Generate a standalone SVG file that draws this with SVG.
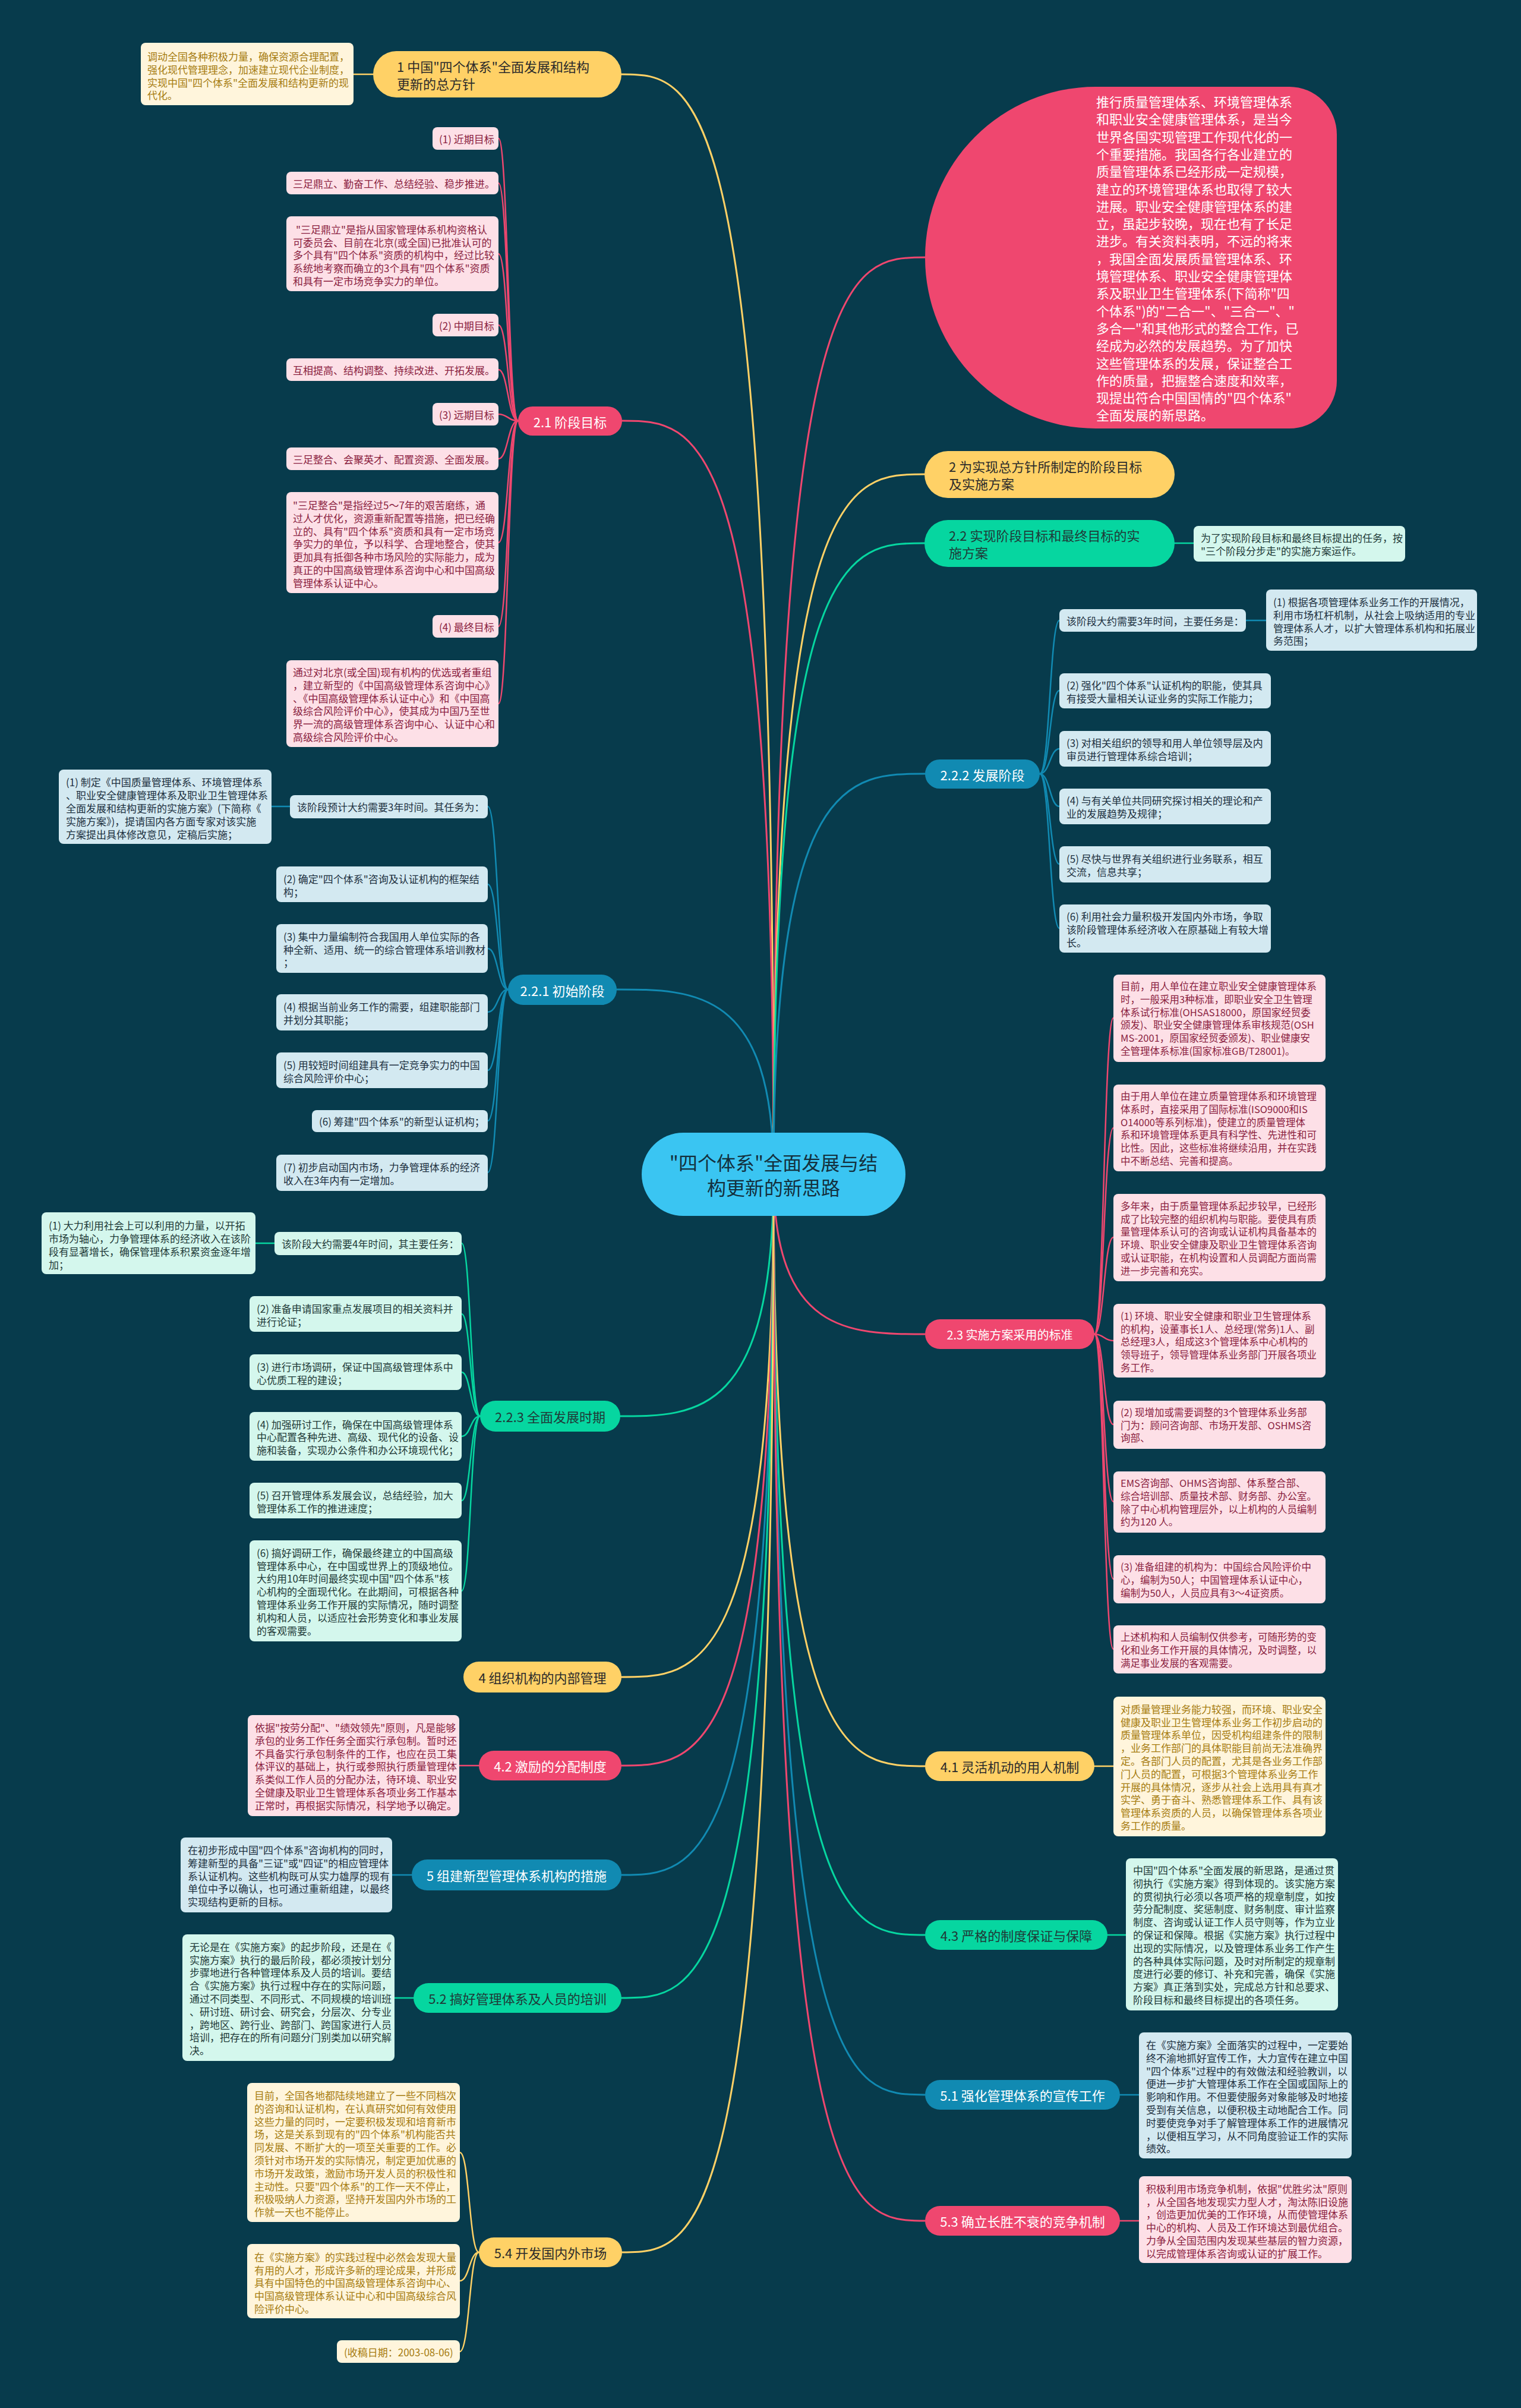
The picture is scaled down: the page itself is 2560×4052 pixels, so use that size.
<svg xmlns="http://www.w3.org/2000/svg" width="2560" height="4052" viewBox="0 0 2560 4052">
<style>
text{font-family:"Noto Sans CJK SC","Noto Sans",sans-serif;dominant-baseline:central}
.s{font-size:17px}
.s2{font-size:16.5px}
.m{font-size:22px}
.py{fill:#ffd166}.pr{fill:#ef476f}.pg{fill:#06d6a0}.pb{fill:#118ab2}
.by{fill:#fff5dc}.br{fill:#fde0e7}.bm{fill:#d4f7ed}.bb{fill:#d3e9f1}
.kd{fill:#2b2b2b}.kw{fill:#ffffff}.kr{fill:#8b1e3f}.ky{fill:#a67c10}.kg{fill:#1f3a38}.kb{fill:#1d3040}
.ln{fill:none;stroke-width:3;stroke-linecap:round}
.th{stroke-width:2.5}
.ly{stroke:#ffd166}.lr{stroke:#ef476f}.lg{stroke:#06d6a0}.lb{stroke:#118ab2}
</style>
<rect x="0" y="0" width="2560" height="4052" fill="#073b4c"/>

<g id="connectors">
<path class="ln lr" d="M1302 1976 C1302 433 1430 433 1557 433"/>
<path class="ln ly" d="M1302 1976 C1302 125 1174 125 1046 125"/>
<path class="ln lr" d="M1302 1976 C1302 708 1175 708 1047 708"/>
<path class="ln ly" d="M1302 1976 C1302 798 1429 798 1556 798"/>
<path class="ln lg" d="M1302 1976 C1302 914 1429 914 1556 914"/>
<path class="ln lb" d="M1302 1976 C1302 1302 1430 1302 1557 1302"/>
<path class="ln lb" d="M1302 1976 C1302 1665 1170 1665 1038 1665"/>
<path class="ln lr" d="M1302 1976 C1302 2245 1430 2245 1557 2245"/>
<path class="ln lg" d="M1302 1976 C1302 2383 1173 2383 1044 2383"/>
<path class="ln ly" d="M1302 1976 C1302 2822 1174 2822 1046 2822"/>
<path class="ln ly" d="M1302 1976 C1302 2972 1430 2972 1557 2972"/>
<path class="ln lr" d="M1302 1976 C1302 2971 1174 2971 1046 2971"/>
<path class="ln lb" d="M1302 1976 C1302 3155 1174 3155 1046 3155"/>
<path class="ln lg" d="M1302 1976 C1302 3256 1430 3256 1557 3256"/>
<path class="ln lg" d="M1302 1976 C1302 3362 1174 3362 1046 3362"/>
<path class="ln lb" d="M1302 1976 C1302 3525 1430 3525 1557 3525"/>
<path class="ln lr" d="M1302 1976 C1302 3737 1430 3737 1557 3737"/>
<path class="ln ly" d="M1302 1976 C1302 3790 1175 3790 1047 3790"/>

<path class="ln th ly" d="M628 125 L595 125"/>
<path class="ln th lg" d="M1977 914 L2009 914"/>
<path class="ln th lb" d="M2097 1044 L2131 1044"/>
<path class="ln th lb" d="M488 1357 L457 1357"/>
<path class="ln th lg" d="M462 2092 L430 2092"/>
<path class="ln th lr" d="M806 2971 L773 2971"/>
<path class="ln th lb" d="M693 3155 L660 3155"/>
<path class="ln th lg" d="M696 3362 L664 3362"/>
<path class="ln th ly" d="M1842 2972 L1874 2972"/>
<path class="ln th lg" d="M1864 3256 L1895 3256"/>
<path class="ln th lb" d="M1885 3525 L1917 3525"/>
<path class="ln th lr" d="M1885 3737 L1917 3737"/>

<path class="ln th lr" d="M872 708 C855 708 855 233 839 233"/>
<path class="ln th lr" d="M872 708 C855 708 855 308 839 308"/>
<path class="ln th lr" d="M872 708 C855 708 855 427 839 427"/>
<path class="ln th lr" d="M872 708 C855 708 855 547 839 547"/>
<path class="ln th lr" d="M872 708 C855 708 855 622 839 622"/>
<path class="ln th lr" d="M872 708 C855 708 855 697 839 697"/>
<path class="ln th lr" d="M872 708 C855 708 855 772 839 772"/>
<path class="ln th lr" d="M872 708 C855 708 855 913 839 913"/>
<path class="ln th lr" d="M872 708 C855 708 855 1054 839 1054"/>
<path class="ln th lr" d="M872 708 C855 708 855 1184 839 1184"/>

<path class="ln th lb" d="M1750 1302 C1767 1302 1767 1044 1783 1044"/>
<path class="ln th lb" d="M1750 1302 C1767 1302 1767 1162 1783 1162"/>
<path class="ln th lb" d="M1750 1302 C1767 1302 1767 1260 1783 1260"/>
<path class="ln th lb" d="M1750 1302 C1767 1302 1767 1357 1783 1357"/>
<path class="ln th lb" d="M1750 1302 C1767 1302 1767 1454 1783 1454"/>
<path class="ln th lb" d="M1750 1302 C1767 1302 1767 1562 1783 1562"/>

<path class="ln th lb" d="M855 1665 C838 1665 838 1357 821 1357"/>
<path class="ln th lb" d="M855 1665 C838 1665 838 1488 821 1488"/>
<path class="ln th lb" d="M855 1665 C838 1665 838 1596 821 1596"/>
<path class="ln th lb" d="M855 1665 C838 1665 838 1703 821 1703"/>
<path class="ln th lb" d="M855 1665 C838 1665 838 1801 821 1801"/>
<path class="ln th lb" d="M855 1665 C838 1665 838 1886 821 1886"/>
<path class="ln th lb" d="M855 1665 C838 1665 838 1973 821 1973"/>

<path class="ln th lg" d="M808 2383 C792 2383 792 2092 777 2092"/>
<path class="ln th lg" d="M808 2383 C792 2383 792 2211 777 2211"/>
<path class="ln th lg" d="M808 2383 C792 2383 792 2309 777 2309"/>
<path class="ln th lg" d="M808 2383 C792 2383 792 2417 777 2417"/>
<path class="ln th lg" d="M808 2383 C792 2383 792 2525 777 2525"/>
<path class="ln th lg" d="M808 2383 C792 2383 792 2677 777 2677"/>

<path class="ln th lr" d="M1842 2245 C1858 2245 1858 1713 1874 1713"/>
<path class="ln th lr" d="M1842 2245 C1858 2245 1858 1898 1874 1898"/>
<path class="ln th lr" d="M1842 2245 C1858 2245 1858 2082 1874 2082"/>
<path class="ln th lr" d="M1842 2245 C1858 2245 1858 2256 1874 2256"/>
<path class="ln th lr" d="M1842 2245 C1858 2245 1858 2397 1874 2397"/>
<path class="ln th lr" d="M1842 2245 C1858 2245 1858 2527 1874 2527"/>
<path class="ln th lr" d="M1842 2245 C1858 2245 1858 2657 1874 2657"/>
<path class="ln th lr" d="M1842 2245 C1858 2245 1858 2775 1874 2775"/>

<path class="ln th ly" d="M806 3790 C790 3790 790 3622 774 3622"/>
<path class="ln th ly" d="M806 3790 C790 3790 790 3838 774 3838"/>
<path class="ln th ly" d="M806 3790 C790 3790 790 3957 774 3957"/>
</g>

<g id="root">
<rect x="1080" y="1906" width="444" height="140" rx="70" fill="#3ac5f2"/>
<text x="1302" text-anchor="middle" style="font-size:32px" fill="#14303d"><tspan x="1302" y="1955">"四个体系"全面发展与结</tspan><tspan x="1302" y="1997">构更新的新思路</tspan></text>
</g>

<g id="intro">
<path class="pr" d="M1844 146 H2170 A80 80 0 0 1 2250 226 V641 A80 80 0 0 1 2170 721 H1844 A287 287.5 0 0 1 1844 146 Z"/>
<text class="m kw" x="1845">
<tspan x="1845" y="170">推行质量管理体系、环境管理体系</tspan>
<tspan x="1845" y="199">和职业安全健康管理体系，是当今</tspan>
<tspan x="1845" y="229">世界各国实现管理工作现代化的一</tspan>
<tspan x="1845" y="258">个重要措施。我国各行各业建立的</tspan>
<tspan x="1845" y="287">质量管理体系已经形成一定规模，</tspan>
<tspan x="1845" y="317">建立的环境管理体系也取得了较大</tspan>
<tspan x="1845" y="346">进展。职业安全健康管理体系的建</tspan>
<tspan x="1845" y="375">立，虽起步较晚，现在也有了长足</tspan>
<tspan x="1845" y="404">进步。有关资料表明，不远的将来</tspan>
<tspan x="1845" y="434">，我国全面发展质量管理体系、环</tspan>
<tspan x="1845" y="463">境管理体系、职业安全健康管理体</tspan>
<tspan x="1845" y="492">系及职业卫生管理体系(下简称"四</tspan>
<tspan x="1845" y="522">个体系")的"二合一"、"三合一"、"</tspan>
<tspan x="1845" y="551">多合一"和其他形式的整合工作，已</tspan>
<tspan x="1845" y="580">经成为必然的发展趋势。为了加快</tspan>
<tspan x="1845" y="610">这些管理体系的发展，保证整合工</tspan>
<tspan x="1845" y="639">作的质量，把握整合速度和效率，</tspan>
<tspan x="1845" y="668">现提出符合中国国情的"四个体系"</tspan>
<tspan x="1845" y="697">全面发展的新思路。</tspan>
</text>
</g>

<g id="n1">
<rect class="py" x="628" y="86" width="418" height="78" rx="39"/>
<text class="m kd"><tspan x="668" y="111">1 中国"四个体系"全面发展和结构</tspan><tspan x="668" y="140">更新的总方针</tspan></text>
<rect class="by" x="237" y="72" width="358" height="105" rx="8"/>
<text class="s ky"><tspan x="248" y="94">调动全国各种积极力量，确保资源合理配置，</tspan><tspan x="248" y="116">强化现代管理理念，加速建立现代企业制度，</tspan><tspan x="248" y="138">实现中国"四个体系"全面发展和结构更新的现</tspan><tspan x="248" y="159">代化。</tspan></text>
</g>

<g id="n21">
<rect class="pr" x="872" y="684" width="175" height="49" rx="24.5"/>
<text class="m kw" x="959.5" y="708.5" text-anchor="middle">2.1 阶段目标</text>
<rect class="br" x="728" y="214" width="111" height="38" rx="8"/>
<text class="s kr" x="739" y="233">(1) 近期目标</text>
<rect class="br" x="482" y="289" width="357" height="38" rx="8"/>
<text class="s kr" x="493" y="308">三足鼎立、勤奋工作、总结经验、稳步推进。</text>
<rect class="br" x="482" y="364" width="357" height="126" rx="8"/>
<text class="s kr"><tspan x="498" y="385">"三足鼎立"是指从国家管理体系机构资格认</tspan><tspan x="493" y="407">可委员会、目前在北京(或全国)已批准认可的</tspan><tspan x="493" y="428">多个具有"四个体系"资质的机构中，经过比较</tspan><tspan x="493" y="450">系统地考察而确立的3个具有"四个体系"资质</tspan><tspan x="493" y="472">和具有一定市场竞争实力的单位。</tspan></text>
<rect class="br" x="728" y="528" width="111" height="38" rx="8"/>
<text class="s kr" x="739" y="547">(2) 中期目标</text>
<rect class="br" x="482" y="603" width="357" height="38" rx="8"/>
<text class="s kr" x="493" y="622">互相提高、结构调整、持续改进、开拓发展。</text>
<rect class="br" x="728" y="678" width="111" height="38" rx="8"/>
<text class="s kr" x="739" y="697">(3) 远期目标</text>
<rect class="br" x="482" y="753" width="357" height="38" rx="8"/>
<text class="s kr" x="493" y="772">三足整合、会聚英才、配置资源、全面发展。</text>
<rect class="br" x="482" y="828" width="357" height="170" rx="8"/>
<text class="s kr"><tspan x="493" y="849">"三足整合"是指经过5～7年的艰苦磨练，通</tspan><tspan x="493" y="871">过人才优化，资源重新配置等措施，把已经确</tspan><tspan x="493" y="893">立的、具有"四个体系"资质和具有一定市场竞</tspan><tspan x="493" y="914">争实力的单位，予以科学、合理地整合，使其</tspan><tspan x="493" y="936">更加具有抵御各种市场风险的实际能力，成为</tspan><tspan x="493" y="958">真正的中国高级管理体系咨询中心和中国高级</tspan><tspan x="493" y="980">管理体系认证中心。</tspan></text>
<rect class="br" x="728" y="1035" width="111" height="38" rx="8"/>
<text class="s kr" x="739" y="1054">(4) 最终目标</text>
<rect class="br" x="482" y="1111" width="357" height="146" rx="8"/>
<text class="s kr"><tspan x="493" y="1130">通过对北京(或全国)现有机构的优选或者重组</tspan><tspan x="493" y="1152">，建立新型的《中国高级管理体系咨询中心》</tspan><tspan x="493" y="1174">、《中国高级管理体系认证中心》和《中国高</tspan><tspan x="493" y="1195">级综合风险评价中心》，使其成为中国乃至世</tspan><tspan x="493" y="1217">界一流的高级管理体系咨询中心、认证中心和</tspan><tspan x="493" y="1239">高级综合风险评价中心。</tspan></text>
</g>

<g id="n2">
<rect class="py" x="1556" y="759" width="421" height="79" rx="39.5"/>
<text class="m kd"><tspan x="1597" y="784">2 为实现总方针所制定的阶段目标</tspan><tspan x="1597" y="813">及实施方案</tspan></text>
</g>

<g id="n22">
<rect class="pg" x="1556" y="875" width="421" height="79" rx="39.5"/>
<text class="m kg"><tspan x="1597" y="900">2.2 实现阶段目标和最终目标的实</tspan><tspan x="1597" y="929">施方案</tspan></text>
<rect class="bm" x="2009" y="885" width="356" height="60" rx="8"/>
<text class="s kg"><tspan x="2021" y="904">为了实现阶段目标和最终目标提出的任务，按</tspan><tspan x="2021" y="926">"三个阶段分步走"的实施方案运作。</tspan></text>
</g>

<g id="n222">
<rect class="pb" x="1557" y="1278" width="193" height="49" rx="24.5"/>
<text class="m kw" x="1653.5" y="1302.5" text-anchor="middle">2.2.2 发展阶段</text>
<rect class="bb" x="1783" y="1025" width="314" height="38" rx="8"/>
<text class="s kb" x="1795" y="1044">该阶段大约需要3年时间，主要任务是：</text>
<rect class="bb" x="2131" y="992" width="355" height="103" rx="8"/>
<text class="s kb"><tspan x="2143" y="1012">(1) 根据各项管理体系业务工作的开展情况，</tspan><tspan x="2143" y="1034">利用市场杠杆机制，从社会上吸纳适用的专业</tspan><tspan x="2143" y="1056">管理体系人才，以扩大管理体系机构和拓展业</tspan><tspan x="2143" y="1077">务范围；</tspan></text>
<rect class="bb" x="1783" y="1133" width="356" height="59" rx="8"/>
<text class="s kb"><tspan x="1795" y="1152">(2) 强化"四个体系"认证机构的职能，使其具</tspan><tspan x="1795" y="1174">有接受大量相关认证业务的实际工作能力；</tspan></text>
<rect class="bb" x="1783" y="1230" width="356" height="60" rx="8"/>
<text class="s kb"><tspan x="1795" y="1249">(3) 对相关组织的领导和用人单位领导层及内</tspan><tspan x="1795" y="1271">审员进行管理体系综合培训；</tspan></text>
<rect class="bb" x="1783" y="1327" width="356" height="60" rx="8"/>
<text class="s kb"><tspan x="1795" y="1346">(4) 与有关单位共同研究探讨相关的理论和产</tspan><tspan x="1795" y="1368">业的发展趋势及规律；</tspan></text>
<rect class="bb" x="1783" y="1424" width="356" height="61" rx="8"/>
<text class="s kb"><tspan x="1795" y="1444">(5) 尽快与世界有关组织进行业务联系，相互</tspan><tspan x="1795" y="1466">交流，信息共享；</tspan></text>
<rect class="bb" x="1783" y="1522" width="356" height="81" rx="8"/>
<text class="s kb"><tspan x="1795" y="1541">(6) 利用社会力量积极开发国内外市场，争取</tspan><tspan x="1795" y="1563">该阶段管理体系经济收入在原基础上有较大增</tspan><tspan x="1795" y="1585">长。</tspan></text>
</g>

<g id="n221">
<rect class="pb" x="855" y="1640" width="183" height="51" rx="25.5"/>
<text class="m kw" x="946.5" y="1665.5" text-anchor="middle">2.2.1 初始阶段</text>
<rect class="bb" x="488" y="1338" width="333" height="39" rx="8"/>
<text class="s kb" x="500" y="1357.5">该阶段预计大约需要3年时间。其任务为：</text>
<rect class="bb" x="99" y="1295" width="358" height="125" rx="8"/>
<text class="s kb"><tspan x="111" y="1315">(1) 制定《中国质量管理体系、环境管理体系</tspan><tspan x="111" y="1337">、职业安全健康管理体系及职业卫生管理体系</tspan><tspan x="111" y="1359">全面发展和结构更新的实施方案》(下简称《</tspan><tspan x="111" y="1381">实施方案》)，提请国内各方面专家对该实施</tspan><tspan x="111" y="1403">方案提出具体修改意见，定稿后实施；</tspan></text>
<rect class="bb" x="465" y="1458" width="356" height="60" rx="8"/>
<text class="s kb"><tspan x="477" y="1478">(2) 确定"四个体系"咨询及认证机构的框架结</tspan><tspan x="477" y="1500">构；</tspan></text>
<rect class="bb" x="465" y="1555" width="356" height="82" rx="8"/>
<text class="s kb"><tspan x="477" y="1575">(3) 集中力量编制符合我国用人单位实际的各</tspan><tspan x="477" y="1597">种全新、适用、统一的综合管理体系培训教材</tspan><tspan x="477" y="1618">；</tspan></text>
<rect class="bb" x="465" y="1673" width="356" height="61" rx="8"/>
<text class="s kb"><tspan x="477" y="1693">(4) 根据当前业务工作的需要，组建职能部门</tspan><tspan x="477" y="1715">并划分其职能；</tspan></text>
<rect class="bb" x="465" y="1771" width="356" height="60" rx="8"/>
<text class="s kb"><tspan x="477" y="1791">(5) 用较短时间组建具有一定竞争实力的中国</tspan><tspan x="477" y="1813">综合风险评价中心；</tspan></text>
<rect class="bb" x="525" y="1868" width="296" height="37" rx="8"/>
<text class="s kb" x="537" y="1886.5">(6) 筹建"四个体系"的新型认证机构；</text>
<rect class="bb" x="465" y="1943" width="356" height="61" rx="8"/>
<text class="s kb"><tspan x="477" y="1963">(7) 初步启动国内市场，力争管理体系的经济</tspan><tspan x="477" y="1985">收入在3年内有一定增加。</tspan></text>
</g>

<g id="n223">
<rect class="pg" x="808" y="2357" width="236" height="52" rx="26"/>
<text class="m kg" x="926" y="2383" text-anchor="middle">2.2.3 全面发展时期</text>
<rect class="bm" x="462" y="2073" width="315" height="39" rx="8"/>
<text class="s kg" x="474" y="2092.5">该阶段大约需要4年时间，其主要任务：</text>
<rect class="bm" x="70" y="2040" width="360" height="104" rx="8"/>
<text class="s kg"><tspan x="82" y="2061">(1) 大力利用社会上可以利用的力量，以开拓</tspan><tspan x="82" y="2083">市场为轴心，力争管理体系的经济收入在该阶</tspan><tspan x="82" y="2105">段有显著增长，确保管理体系积累资金逐年增</tspan><tspan x="82" y="2127">加；</tspan></text>
<rect class="bm" x="420" y="2181" width="357" height="60" rx="8"/>
<text class="s kg"><tspan x="432" y="2201">(2) 准备申请国家重点发展项目的相关资料并</tspan><tspan x="432" y="2223">进行论证；</tspan></text>
<rect class="bm" x="420" y="2279" width="357" height="60" rx="8"/>
<text class="s kg"><tspan x="432" y="2299">(3) 进行市场调研，保证中国高级管理体系中</tspan><tspan x="432" y="2321">心优质工程的建设；</tspan></text>
<rect class="bm" x="420" y="2376" width="357" height="82" rx="8"/>
<text class="s kg"><tspan x="432" y="2396">(4) 加强研讨工作，确保在中国高级管理体系</tspan><tspan x="432" y="2417">中心配置各种先进、高级、现代化的设备、设</tspan><tspan x="432" y="2439">施和装备，实现办公条件和办公环境现代化；</tspan></text>
<rect class="bm" x="420" y="2495" width="357" height="60" rx="8"/>
<text class="s kg"><tspan x="432" y="2515">(5) 召开管理体系发展会议，总结经验，加大</tspan><tspan x="432" y="2537">管理体系工作的推进速度；</tspan></text>
<rect class="bm" x="420" y="2592" width="357" height="170" rx="8"/>
<text class="s kg"><tspan x="432" y="2612">(6) 搞好调研工作，确保最终建立的中国高级</tspan><tspan x="432" y="2634">管理体系中心，在中国或世界上的顶级地位。</tspan><tspan x="432" y="2655">大约用10年时间最终实现中国"四个体系"核</tspan><tspan x="432" y="2677">心机构的全面现代化。在此期间，可根据各种</tspan><tspan x="432" y="2699">管理体系业务工作开展的实际情况，随时调整</tspan><tspan x="432" y="2721">机构和人员，以适应社会形势变化和事业发展</tspan><tspan x="432" y="2743">的客观需要。</tspan></text>
</g>

<g id="n23">
<rect class="pr" x="1557" y="2220" width="285" height="50" rx="25"/>
<text class="kw" style="font-size:20px" x="1699.5" y="2245" text-anchor="middle">2.3 实施方案采用的标准</text>
<rect class="br" x="1874" y="1640" width="357" height="147" rx="8"/>
<text class="s2 kr"><tspan x="1886" y="1659">目前，用人单位在建立职业安全健康管理体系</tspan><tspan x="1886" y="1681">时，一般采用3种标准，即职业安全卫生管理</tspan><tspan x="1886" y="1703">体系试行标准(OHSAS18000，原国家经贸委</tspan><tspan x="1886" y="1724">颁发)、职业安全健康管理体系审核规范(OSH</tspan><tspan x="1886" y="1746">MS-2001，原国家经贸委颁发)、职业健康安</tspan><tspan x="1886" y="1768">全管理体系标准(国家标准GB/T28001)。</tspan></text>
<rect class="br" x="1874" y="1825" width="357" height="146" rx="8"/>
<text class="s2 kr"><tspan x="1886" y="1844">由于用人单位在建立质量管理体系和环境管理</tspan><tspan x="1886" y="1866">体系时，直接采用了国际标准(ISO9000和IS</tspan><tspan x="1886" y="1888">O14000等系列标准)，使建立的质量管理体</tspan><tspan x="1886" y="1909">系和环境管理体系更具有科学性、先进性和可</tspan><tspan x="1886" y="1931">比性。因此，这些标准将继续沿用，并在实践</tspan><tspan x="1886" y="1953">中不断总结、完善和提高。</tspan></text>
<rect class="br" x="1874" y="2009" width="357" height="147" rx="8"/>
<text class="s2 kr"><tspan x="1886" y="2029">多年来，由于质量管理体系起步较早，已经形</tspan><tspan x="1886" y="2051">成了比较完整的组织机构与职能。要使具有质</tspan><tspan x="1886" y="2072">量管理体系认可的咨询或认证机构具备基本的</tspan><tspan x="1886" y="2094">环境、职业安全健康及职业卫生管理体系咨询</tspan><tspan x="1886" y="2116">或认证职能，在机构设置和人员调配方面尚需</tspan><tspan x="1886" y="2138">进一步完善和充实。</tspan></text>
<rect class="br" x="1874" y="2194" width="357" height="124" rx="8"/>
<text class="s2 kr"><tspan x="1886" y="2214">(1) 环境、职业安全健康和职业卫生管理体系</tspan><tspan x="1886" y="2236">的机构，设董事长1人、总经理(常务)1人、副</tspan><tspan x="1886" y="2257">总经理3人，组成这3个管理体系中心机构的</tspan><tspan x="1886" y="2279">领导班子，领导管理体系业务部门开展各项业</tspan><tspan x="1886" y="2301">务工作。</tspan></text>
<rect class="br" x="1874" y="2357" width="357" height="81" rx="8"/>
<text class="s2 kr"><tspan x="1886" y="2376">(2) 现增加或需要调整的3个管理体系业务部</tspan><tspan x="1886" y="2398">门为：顾问咨询部、市场开发部、OSHMS咨</tspan><tspan x="1886" y="2419">询部、</tspan></text>
<rect class="br" x="1874" y="2476" width="357" height="103" rx="8"/>
<text class="s2 kr"><tspan x="1886" y="2495">EMS咨询部、OHMS咨询部、体系整合部、</tspan><tspan x="1886" y="2517">综合培训部、质量技术部、财务部、办公室。</tspan><tspan x="1886" y="2539">除了中心机构管理层外，以上机构的人员编制</tspan><tspan x="1886" y="2560">约为120 人。</tspan></text>
<rect class="br" x="1874" y="2617" width="357" height="81" rx="8"/>
<text class="s2 kr"><tspan x="1886" y="2636">(3) 准备组建的机构为：中国综合风险评价中</tspan><tspan x="1886" y="2658">心，编制为50人；中国管理体系认证中心，</tspan><tspan x="1886" y="2680">编制为50人，人员应具有3～4证资质。</tspan></text>
<rect class="br" x="1874" y="2735" width="357" height="81" rx="8"/>
<text class="s2 kr"><tspan x="1886" y="2754">上述机构和人员编制仅供参考，可随形势的变</tspan><tspan x="1886" y="2776">化和业务工作开展的具体情况，及时调整，以</tspan><tspan x="1886" y="2798">满足事业发展的客观需要。</tspan></text>
</g>

<g id="n4">
<rect class="py" x="780" y="2796" width="266" height="52" rx="26"/>
<text class="m kd" x="913" y="2822" text-anchor="middle">4 组织机构的内部管理</text>
</g>

<g id="n41">
<rect class="py" x="1557" y="2947" width="285" height="50" rx="25"/>
<text class="m kd" x="1699.5" y="2972" text-anchor="middle">4.1 灵活机动的用人机制</text>
<rect class="by" x="1874" y="2855" width="357" height="235" rx="8"/>
<text class="s ky"><tspan x="1886" y="2875">对质量管理业务能力较强，而环境、职业安全</tspan><tspan x="1886" y="2897">健康及职业卫生管理体系业务工作初步启动的</tspan><tspan x="1886" y="2918">质量管理体系单位，因受机构组建条件的限制</tspan><tspan x="1886" y="2940">，业务工作部门的具体职能目前尚无法准确界</tspan><tspan x="1886" y="2962">定。各部门人员的配置，尤其是各业务工作部</tspan><tspan x="1886" y="2984">门人员的配置，可根据3个管理体系业务工作</tspan><tspan x="1886" y="3006">开展的具体情况，逐步从社会上选用具有真才</tspan><tspan x="1886" y="3027">实学、勇于奋斗、熟悉管理体系工作、具有该</tspan><tspan x="1886" y="3049">管理体系资质的人员，以确保管理体系各项业</tspan><tspan x="1886" y="3071">务工作的质量。</tspan></text>
</g>

<g id="n42">
<rect class="pr" x="806" y="2946" width="240" height="50" rx="25"/>
<text class="m kw" x="926" y="2971" text-anchor="middle">4.2 激励的分配制度</text>
<rect class="br" x="417" y="2886" width="356" height="170" rx="8"/>
<text class="s kr"><tspan x="429" y="2906">依据"按劳分配"、"绩效领先"原则，凡是能够</tspan><tspan x="429" y="2928">承包的业务工作任务全面实行承包制。暂时还</tspan><tspan x="429" y="2950">不具备实行承包制条件的工作，也应在员工集</tspan><tspan x="429" y="2971">体评议的基础上，执行或参照执行质量管理体</tspan><tspan x="429" y="2993">系类似工作人员的分配办法，待环境、职业安</tspan><tspan x="429" y="3015">全健康及职业卫生管理体系各项业务工作基本</tspan><tspan x="429" y="3037">正常时，再根据实际情况，科学地予以确定。</tspan></text>
</g>

<g id="n43">
<rect class="pg" x="1557" y="3231" width="307" height="50" rx="25"/>
<text class="m kg" x="1710.5" y="3256" text-anchor="middle">4.3 严格的制度保证与保障</text>
<rect class="bm" x="1895" y="3127" width="357" height="256" rx="8"/>
<text class="s kg"><tspan x="1907" y="3146">中国"四个体系"全面发展的新思路，是通过贯</tspan><tspan x="1907" y="3168">彻执行《实施方案》得到体现的。该实施方案</tspan><tspan x="1907" y="3190">的贯彻执行必须以各项严格的规章制度，如按</tspan><tspan x="1907" y="3211">劳分配制度、奖惩制度、财务制度、审计监察</tspan><tspan x="1907" y="3233">制度、咨询或认证工作人员守则等，作为立业</tspan><tspan x="1907" y="3255">的保证和保障。根据《实施方案》执行过程中</tspan><tspan x="1907" y="3277">出现的实际情况，以及管理体系业务工作产生</tspan><tspan x="1907" y="3299">的各种具体实际问题，及时对所制定的规章制</tspan><tspan x="1907" y="3320">度进行必要的修订、补充和完善，确保《实施</tspan><tspan x="1907" y="3342">方案》真正落到实处，完成总方针和总要求、</tspan><tspan x="1907" y="3364">阶段目标和最终目标提出的各项任务。</tspan></text>
</g>

<g id="n5">
<rect class="pb" x="693" y="3129" width="353" height="52" rx="26"/>
<text class="m kw" x="869.5" y="3155" text-anchor="middle">5 组建新型管理体系机构的措施</text>
<rect class="bb" x="304" y="3092" width="356" height="126" rx="8"/>
<text class="s kb"><tspan x="316" y="3112">在初步形成中国"四个体系"咨询机构的同时，</tspan><tspan x="316" y="3134">筹建新型的具备"三证"或"四证"的相应管理体</tspan><tspan x="316" y="3156">系认证机构。这些机构既可从实力雄厚的现有</tspan><tspan x="316" y="3177">单位中予以确认，也可通过重新组建，以最终</tspan><tspan x="316" y="3199">实现结构更新的目标。</tspan></text>
</g>

<g id="n52">
<rect class="pg" x="696" y="3337" width="350" height="50" rx="25"/>
<text class="m kg" x="871" y="3362" text-anchor="middle">5.2 搞好管理体系及人员的培训</text>
<rect class="bm" x="307" y="3255" width="357" height="213" rx="8"/>
<text class="s kg"><tspan x="319" y="3275">无论是在《实施方案》的起步阶段，还是在《</tspan><tspan x="319" y="3297">实施方案》执行的最后阶段，都必须按计划分</tspan><tspan x="319" y="3318">步骤地进行各种管理体系及人员的培训。要结</tspan><tspan x="319" y="3340">合《实施方案》执行过程中存在的实际问题，</tspan><tspan x="319" y="3362">通过不同类型、不同形式、不同规模的培训班</tspan><tspan x="319" y="3384">、研讨班、研讨会、研究会，分层次、分专业</tspan><tspan x="319" y="3406">，跨地区、跨行业、跨部门、跨国家进行人员</tspan><tspan x="319" y="3427">培训，把存在的所有问题分门别类加以研究解</tspan><tspan x="319" y="3449">决。</tspan></text>
</g>

<g id="n51">
<rect class="pb" x="1557" y="3500" width="328" height="50" rx="25"/>
<text class="m kw" x="1721" y="3525" text-anchor="middle">5.1 强化管理体系的宣传工作</text>
<rect class="bb" x="1917" y="3420" width="358" height="212" rx="8"/>
<text class="s kb"><tspan x="1929" y="3440">在《实施方案》全面落实的过程中，一定要始</tspan><tspan x="1929" y="3462">终不渝地抓好宣传工作，大力宣传在建立中国</tspan><tspan x="1929" y="3484">"四个体系"过程中的有效做法和经验教训，以</tspan><tspan x="1929" y="3505">便进一步扩大管理体系工作在全国或国际上的</tspan><tspan x="1929" y="3527">影响和作用。不但要使服务对象能够及时地接</tspan><tspan x="1929" y="3549">受到有关信息，以便积极主动地配合工作。同</tspan><tspan x="1929" y="3571">时要使竞争对手了解管理体系工作的进展情况</tspan><tspan x="1929" y="3593">，以便相互学习，从不同角度验证工作的实际</tspan><tspan x="1929" y="3614">绩效。</tspan></text>
</g>

<g id="n53">
<rect class="pr" x="1557" y="3712" width="328" height="50" rx="25"/>
<text class="m kw" x="1721" y="3737" text-anchor="middle">5.3 确立长胜不衰的竞争机制</text>
<rect class="br" x="1917" y="3662" width="358" height="146" rx="8"/>
<text class="s kr"><tspan x="1929" y="3682">积极利用市场竞争机制，依据"优胜劣汰"原则</tspan><tspan x="1929" y="3704">，从全国各地发现实力型人才，淘汰陈旧设施</tspan><tspan x="1929" y="3725">，创造更加优美的工作环境，从而使管理体系</tspan><tspan x="1929" y="3747">中心的机构、人员及工作环境达到最优组合。</tspan><tspan x="1929" y="3769">力争从全国范围内发现某些基层的智力资源，</tspan><tspan x="1929" y="3791">以完成管理体系咨询或认证的扩展工作。</tspan></text>
</g>

<g id="n54">
<rect class="py" x="806" y="3765" width="241" height="50" rx="25"/>
<text class="m kd" x="926.5" y="3790" text-anchor="middle">5.4 开发国内外市场</text>
<rect class="by" x="416" y="3505" width="358" height="234" rx="8"/>
<text class="s ky"><tspan x="428" y="3525">目前，全国各地都陆续地建立了一些不同档次</tspan><tspan x="428" y="3547">的咨询和认证机构，在认真研究如何有效使用</tspan><tspan x="428" y="3569">这些力量的同时，一定要积极发现和培育新市</tspan><tspan x="428" y="3590">场，这是关系到现有的"四个体系"机构能否共</tspan><tspan x="428" y="3612">同发展、不断扩大的一项至关重要的工作。必</tspan><tspan x="428" y="3634">须针对市场开发的实际情况，制定更加优惠的</tspan><tspan x="428" y="3656">市场开发政策，激励市场开发人员的积极性和</tspan><tspan x="428" y="3678">主动性。只要"四个体系"的工作一天不停止，</tspan><tspan x="428" y="3699">积极吸纳人力资源，坚持开发国内外市场的工</tspan><tspan x="428" y="3721">作就一天也不能停止。</tspan></text>
<rect class="by" x="416" y="3776" width="358" height="125" rx="8"/>
<text class="s ky"><tspan x="428" y="3797">在《实施方案》的实践过程中必然会发现大量</tspan><tspan x="428" y="3819">有用的人才，形成许多新的理论成果，并形成</tspan><tspan x="428" y="3840">具有中国特色的中国高级管理体系咨询中心、</tspan><tspan x="428" y="3862">中国高级管理体系认证中心和中国高级综合风</tspan><tspan x="428" y="3884">险评价中心。</tspan></text>
<rect class="by" x="567" y="3938" width="207" height="38" rx="8"/>
<text class="s ky" x="579" y="3957">(收稿日期：2003-08-06)</text>
</g>
</svg>
